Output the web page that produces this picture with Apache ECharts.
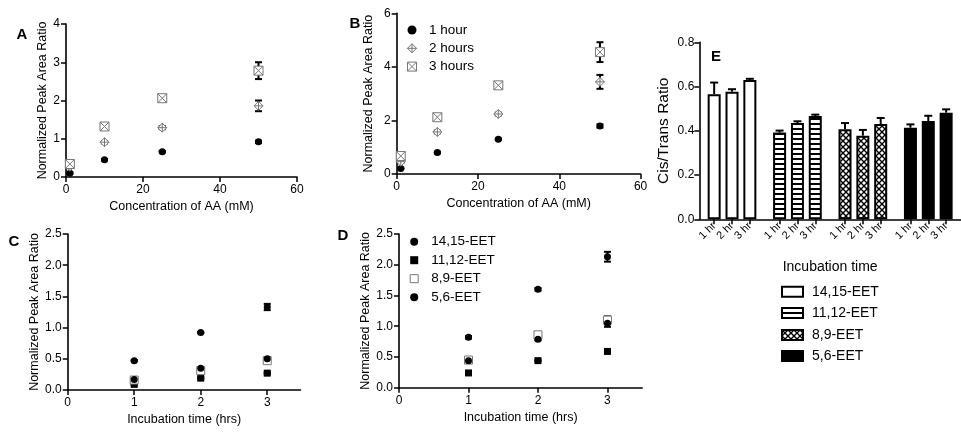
<!DOCTYPE html>
<html><head><meta charset="utf-8">
<script src="https://cdn.jsdelivr.net/npm/echarts@6/dist/echarts.min.js"></script>
<style>html,body{margin:0;padding:0;background:#fff}#c{width:961px;height:433px}</style>
</head><body><div id="c"></div>
<script>
// ---------- DATA ----------
const aConc = [1, 10, 25, 50];
const a1h = [0.10, 0.45, 0.66, 0.92];   const a1hErr = [0.02, 0.02, 0.02, 0.03];
const a2h = [0.27, 0.91, 1.29, 1.86];   const a2hErr = [0.03, 0.03, 0.04, 0.14];
const a3h = [0.34, 1.32, 2.06, 2.78];   const a3hErr = [0.04, 0.03, 0.07, 0.22];

const bConc = [1, 10, 25, 50];
const b1h = [0.21, 0.80, 1.30, 1.79];   const b1hErr = [0.02, 0.03, 0.03, 0.06];
const b2h = [0.46, 1.57, 2.24, 3.44];   const b2hErr = [0.05, 0.05, 0.05, 0.26];
const b3h = [0.67, 2.12, 3.31, 4.55];   const b3hErr = [0.06, 0.05, 0.06, 0.37];
const bLegend = ['1 hour', '2 hours', '3 hours'];

const cTime = [1, 2, 3];
const c1415 = [0.47, 0.92, 1.33];  const c1415Err = [0.01, 0.01, 0.05];
const c1112 = [0.09, 0.19, 0.27];  const c1112Err = [0.01, 0.01, 0.01];
const c89   = [0.16, 0.31, 0.47];  const c89Err   = [0.01, 0.01, 0.02];
const c56   = [0.17, 0.35, 0.50];  const c56Err   = [0.01, 0.01, 0.02];

const dTime = [1, 2, 3];
const d1415 = [0.82, 1.60, 2.13];  const d1415Err = [0.02, 0.02, 0.08];
const d1112 = [0.24, 0.44, 0.59];  const d1112Err = [0.01, 0.01, 0.02];
const d89   = [0.45, 0.86, 1.10];  const d89Err   = [0.02, 0.02, 0.06];
const d56   = [0.44, 0.79, 1.05];  const d56Err   = [0.02, 0.02, 0.06];
const eetNames = ['14,15-EET', '11,12-EET', '8,9-EET', '5,6-EET'];

const eTimes = ['1 hr', '2 hr', '3 hr'];
const e1415 = [0.565, 0.577, 0.630]; const e1415Err = [0.053, 0.011, 0.005];
const e1112 = [0.392, 0.435, 0.467]; const e1112Err = [0.009, 0.008, 0.006];
const e89   = [0.407, 0.378, 0.431]; const e89Err   = [0.028, 0.026, 0.027];
const e56   = [0.414, 0.444, 0.482]; const e56Err   = [0.015, 0.024, 0.015];

const yTicksA = [0, 1, 2, 3, 4];
const yTicksB = [0, 2, 4, 6];
const xTicksAB = [0, 20, 40, 60];
const xTicksCD = [0, 1, 2, 3];
const yTicksCD = [0, 0.5, 1.0, 1.5, 2.0, 2.5];
const yTicksE = [0, 0.2, 0.4, 0.6, 0.8];

// ---------- STYLE HELPERS ----------
const FONT = 'Liberation Sans, Arial, sans-serif';
function makeCanvas(w, h, draw) {
  const cv = document.createElement('canvas'); cv.width = w; cv.height = h;
  const ctx = cv.getContext('2d'); draw(ctx); return cv;
}
const stripeCv = makeCanvas(4, 5, ctx => { ctx.fillStyle = '#fff'; ctx.fillRect(0,0,4,5); ctx.fillStyle = '#000'; ctx.fillRect(0,3,4,2); });
const hatchCv = makeCanvas(6, 6, ctx => {
  ctx.fillStyle = '#fff'; ctx.fillRect(0,0,6,6);
  ctx.strokeStyle = '#000'; ctx.lineWidth = 1.4;
  ctx.beginPath(); ctx.moveTo(-1,-1); ctx.lineTo(7,7); ctx.moveTo(7,-1); ctx.lineTo(-1,7); ctx.stroke();
});
const stripePat = { image: stripeCv, repeat: 'repeat' };
const hatchPat = { image: hatchCv, repeat: 'repeat' };
const eFills = ['#fff', stripePat, hatchPat, '#000'];

const SYM_DIAMOND = 'path://M5 0L10 5L5 10L0 5Z M5 0L5 10 M0 5L10 5';
const SYM_SQX = 'path://M0 0L10 0L10 10L0 10Z M0 0L10 10 M10 0L0 10';
const SYM_SQ = 'path://M0 0L10 0L10 10L0 10Z';

function axLine() { return { show: true, onZero: false, lineStyle: { color: '#000', width: 1.6 } }; }
function axTick(len) { return { show: true, length: len || 5, lineStyle: { color: '#000', width: 1.5 } }; }
function axLabel(extra) { return Object.assign({ color: '#000', fontSize: 12, fontFamily: FONT }, extra || {}); }

function valAxis(gi, min, max, ticks, name, gap, opts) {
  opts = opts || {};
  return {
    type: 'value', gridIndex: gi, min: min, max: max,
    name: name, nameLocation: 'middle', nameGap: gap,
    nameTextStyle: { color: '#000', fontSize: opts.nameSize || 12.5, fontFamily: FONT },
    axisLine: axLine(), axisTick: Object.assign(axTick(5), { customValues: ticks }),
    axisLabel: axLabel({ customValues: ticks, margin: opts.margin || 6, formatter: opts.fmt }),
    splitLine: { show: false }
  };
}

function scatter(name, xi, xs, ys, sym, size, style) {
  return {
    type: 'scatter', name: name, xAxisIndex: xi, yAxisIndex: xi, z: 3,
    symbol: sym, symbolSize: size, data: xs.map((x, i) => [x, ys[i]]),
    itemStyle: Object.assign({ color: '#000', opacity: 1 }, style || {}),
    emphasis: { disabled: true }
  };
}

function errBars(xi, xs, ys, errs, cap, upOnly, z) {
  return {
    type: 'custom', xAxisIndex: xi, yAxisIndex: xi, z: z || 2, silent: true,
    data: xs.map((x, i) => [x, ys[i], errs[i]]),
    renderItem: function (params, api) {
      const x = api.value(0), y = api.value(1), e = api.value(2);
      const hi = api.coord([x, y + e]);
      const lo = api.coord([x, upOnly ? y : y - e]);
      const w = cap / 2, st = { stroke: '#000', lineWidth: 2 };
      const ch = [
        { type: 'line', shape: { x1: hi[0], y1: hi[1], x2: lo[0], y2: lo[1] }, style: st },
        { type: 'line', shape: { x1: hi[0] - w, y1: hi[1], x2: hi[0] + w, y2: hi[1] }, style: st }
      ];
      if (!upOnly) ch.push({ type: 'line', shape: { x1: lo[0] - w, y1: lo[1], x2: lo[0] + w, y2: lo[1] }, style: st });
      return { type: 'group', children: ch };
    }
  };
}

const openGray = { color: '#fff', borderColor: '#777', borderWidth: 1 };
const solid = { color: '#000', borderColor: '#000', borderWidth: 0 };
const fmt1 = v => v.toFixed(1);

// ---------- PANEL E CATEGORY SLOTS ----------
const SLOTS = 11, FIRST = 2, STEP = 3;
const eCats = [];
for (let g = 0; g < eetNames.length; g++) {
  for (let s = 0; s < SLOTS; s++) {
    const k = (s - FIRST) / STEP;
    if (s >= FIRST && Number.isInteger(k) && k < eTimes.length) eCats.push(eetNames[g] + '|' + eTimes[k]);
    else eCats.push('gap' + g + '-' + s);
  }
}
const eVals = [e1415, e1112, e89, e56];
const eErrs = [e1415Err, e1112Err, e89Err, e56Err];
const eBarData = eCats.map(c => '-');
const eErrX = [], eErrY = [], eErrE = [];
eetNames.forEach((gname, g) => {
  eTimes.forEach((t, k) => {
    const idx = eCats.indexOf(gname + '|' + t);
    eBarData[idx] = { value: eVals[g][k], itemStyle: { color: eFills[g] } };
    eErrX.push(eCats[idx]); eErrY.push(eVals[g][k]); eErrE.push(eErrs[g][k]);
  });
});

const legText = { color: '#000', fontSize: 13.5, fontFamily: FONT, lineHeight: 14 };

// ---------- OPTION ----------
const option = {
  animation: false,
  backgroundColor: '#fff',
  textStyle: { fontFamily: FONT },
  grid: [
    { left: 66, right: 664, top: 24, bottom: 256 },          // A
    { left: 396.7, right: 320.4, top: 13.3, bottom: 259 },    // B
    { left: 67.7, right: 660.5, top: 234, bottom: 43 },       // C
    { left: 399, right: 318.8, top: 234, bottom: 45.3 },      // D
    { left: 699.3, right: -5, top: 42.3, bottom: 213.7 }      // E
  ],
  xAxis: [
    valAxis(0, 0, 60, xTicksAB, 'Concentration of AA (mM)', 23, { margin: 7 }),
    valAxis(1, 0, 60, xTicksAB, 'Concentration of AA (mM)', 23, { margin: 7 }),
    valAxis(2, 0, 3.5, xTicksCD, 'Incubation time (hrs)', 23, { margin: 7 }),
    valAxis(3, 0, 3.5, xTicksCD, 'Incubation time (hrs)', 23, { margin: 7 }),
    {
      type: 'category', gridIndex: 4, data: eCats,
      name: 'Incubation time', nameLocation: 'middle', nameGap: 41,
      nameTextStyle: { color: '#000', fontSize: 14, fontFamily: FONT },
      axisLine: axLine(),
      axisTick: { show: true, alignWithLabel: true, length: 5, lineStyle: { color: '#000', width: 1.5 },
                  interval: (i, v) => !String(v).startsWith('gap') },
      axisLabel: { color: '#000', fontSize: 11, fontFamily: FONT, rotate: 45, margin: 5,
                   interval: (i, v) => !String(v).startsWith('gap'),
                   formatter: v => String(v).split('|')[1] || '' },
      splitLine: { show: false }
    }
  ],
  yAxis: [
    valAxis(0, 0, 4, yTicksA, 'Normalized Peak Area Ratio', 16),
    valAxis(1, 0, 6, yTicksB, 'Normalized Peak Area Ratio', 22),
    valAxis(2, 0, 2.5, yTicksCD, 'Normalized Peak Area Ratio', 22, { fmt: fmt1 }),
    valAxis(3, 0, 2.5, yTicksCD, 'Normalized Peak Area Ratio', 25, { fmt: fmt1 }),
    valAxis(4, 0, 0.8, yTicksE, 'Cis/Trans Ratio', 28, { fmt: fmt1, nameSize: 15.5, margin: 5 })
  ],
  legend: [
    { data: [
        { name: bLegend[0], icon: 'circle', itemStyle: solid },
        { name: bLegend[1], icon: SYM_DIAMOND, itemStyle: openGray },
        { name: bLegend[2], icon: SYM_SQX, itemStyle: openGray }
      ],
      orient: 'vertical', left: 402, top: 18, itemWidth: 24, itemHeight: 9, itemGap: 4.3,
      symbolKeepAspect: true, selectedMode: false, textStyle: legText },
    { data: [
        { name: eetNames[0], icon: 'circle', itemStyle: solid },
        { name: eetNames[1], icon: SYM_SQ, itemStyle: solid },
        { name: eetNames[2], icon: SYM_SQ, itemStyle: openGray },
        { name: eetNames[3], icon: 'circle', itemStyle: solid }
      ],
      orient: 'vertical', left: 404.7, top: 229.7, itemWidth: 24, itemHeight: 8, itemGap: 4.5,
      symbolKeepAspect: true, selectedMode: false, textStyle: legText }
  ],
  series: [
    // A
    errBars(0, aConc, a1h, a1hErr, 7), errBars(0, aConc, a2h, a2hErr, 7), errBars(0, aConc, a3h, a3hErr, 7),
    scatter('A 1 hour', 0, aConc, a1h, 'circle', 7),
    scatter('A 2 hours', 0, aConc, a2h, SYM_DIAMOND, 9, openGray),
    scatter('A 3 hours', 0, aConc, a3h, SYM_SQX, 9, openGray),
    // B
    errBars(1, bConc, b1h, b1hErr, 7), errBars(1, bConc, b2h, b2hErr, 7), errBars(1, bConc, b3h, b3hErr, 7),
    scatter(bLegend[0], 1, bConc, b1h, 'circle', 7),
    scatter(bLegend[1], 1, bConc, b2h, SYM_DIAMOND, 9, openGray),
    scatter(bLegend[2], 1, bConc, b3h, SYM_SQX, 9, openGray),
    // C
    errBars(2, cTime, c1415, c1415Err, 7), errBars(2, cTime, c1112, c1112Err, 7),
    errBars(2, cTime, c89, c89Err, 7), errBars(2, cTime, c56, c56Err, 7),
    scatter('C ' + eetNames[0], 2, cTime, c1415, 'circle', 7),
    scatter('C ' + eetNames[1], 2, cTime, c1112, 'rect', 7),
    scatter('C ' + eetNames[2], 2, cTime, c89, 'rect', 8, openGray),
    scatter('C ' + eetNames[3], 2, cTime, c56, 'circle', 7),
    // D
    errBars(3, dTime, d1415, d1415Err, 7), errBars(3, dTime, d1112, d1112Err, 7),
    errBars(3, dTime, d89, d89Err, 7), errBars(3, dTime, d56, d56Err, 7),
    scatter(eetNames[0], 3, dTime, d1415, 'circle', 7),
    scatter(eetNames[1], 3, dTime, d1112, 'rect', 7),
    scatter(eetNames[2], 3, dTime, d89, 'rect', 8, openGray),
    scatter(eetNames[3], 3, dTime, d56, 'circle', 7),
    // E
    {
      type: 'bar', xAxisIndex: 4, yAxisIndex: 4, barWidth: 13, z: 2,
      data: eBarData,
      itemStyle: { borderColor: '#000', borderWidth: 2 },
      emphasis: { disabled: true }
    },
    errBars(4, eErrX, eErrY, eErrE, 8, true, 3)
  ],
  graphic: [
    { type: 'text', x: 22, y: 35, style: { text: 'A', font: 'bold 15px ' + FONT, fill: '#000', align: 'center', verticalAlign: 'middle', textAlign: 'center', textVerticalAlign: 'middle' } },
    { type: 'text', x: 355, y: 24, style: { text: 'B', font: 'bold 15px ' + FONT, fill: '#000', align: 'center', verticalAlign: 'middle', textAlign: 'center', textVerticalAlign: 'middle' } },
    { type: 'text', x: 14, y: 242, style: { text: 'C', font: 'bold 15px ' + FONT, fill: '#000', align: 'center', verticalAlign: 'middle', textAlign: 'center', textVerticalAlign: 'middle' } },
    { type: 'text', x: 343, y: 236, style: { text: 'D', font: 'bold 15px ' + FONT, fill: '#000', align: 'center', verticalAlign: 'middle', textAlign: 'center', textVerticalAlign: 'middle' } },
    { type: 'text', x: 716, y: 57, style: { text: 'E', font: 'bold 15px ' + FONT, fill: '#000', align: 'center', verticalAlign: 'middle', textAlign: 'center', textVerticalAlign: 'middle' } }
  ]
};

// Legend for panel E (pattern swatches + labels)
const eLegY = [291.7, 313, 335, 356];
eetNames.forEach((n, g) => {
  option.graphic.push({ type: 'rect', x: 782, y: eLegY[g] - 5, shape: { width: 21, height: 10 },
    style: { fill: g === 1 ? '#fff' : eFills[g], stroke: '#000', lineWidth: 2 } });
  if (g === 1) option.graphic.push({ type: 'line', shape: { x1: 782, y1: eLegY[g], x2: 803, y2: eLegY[g] }, style: { stroke: '#000', lineWidth: 2 } });
  option.graphic.push({ type: 'text', x: 812, y: eLegY[g], style: { text: n, font: '14px ' + FONT, fill: '#000', align: 'left', verticalAlign: 'middle', textAlign: 'left', textVerticalAlign: 'middle' } });
});

const chart = echarts.init(document.getElementById('c'), null, { renderer: 'canvas' });
chart.setOption(option);
</script>
</body></html>
